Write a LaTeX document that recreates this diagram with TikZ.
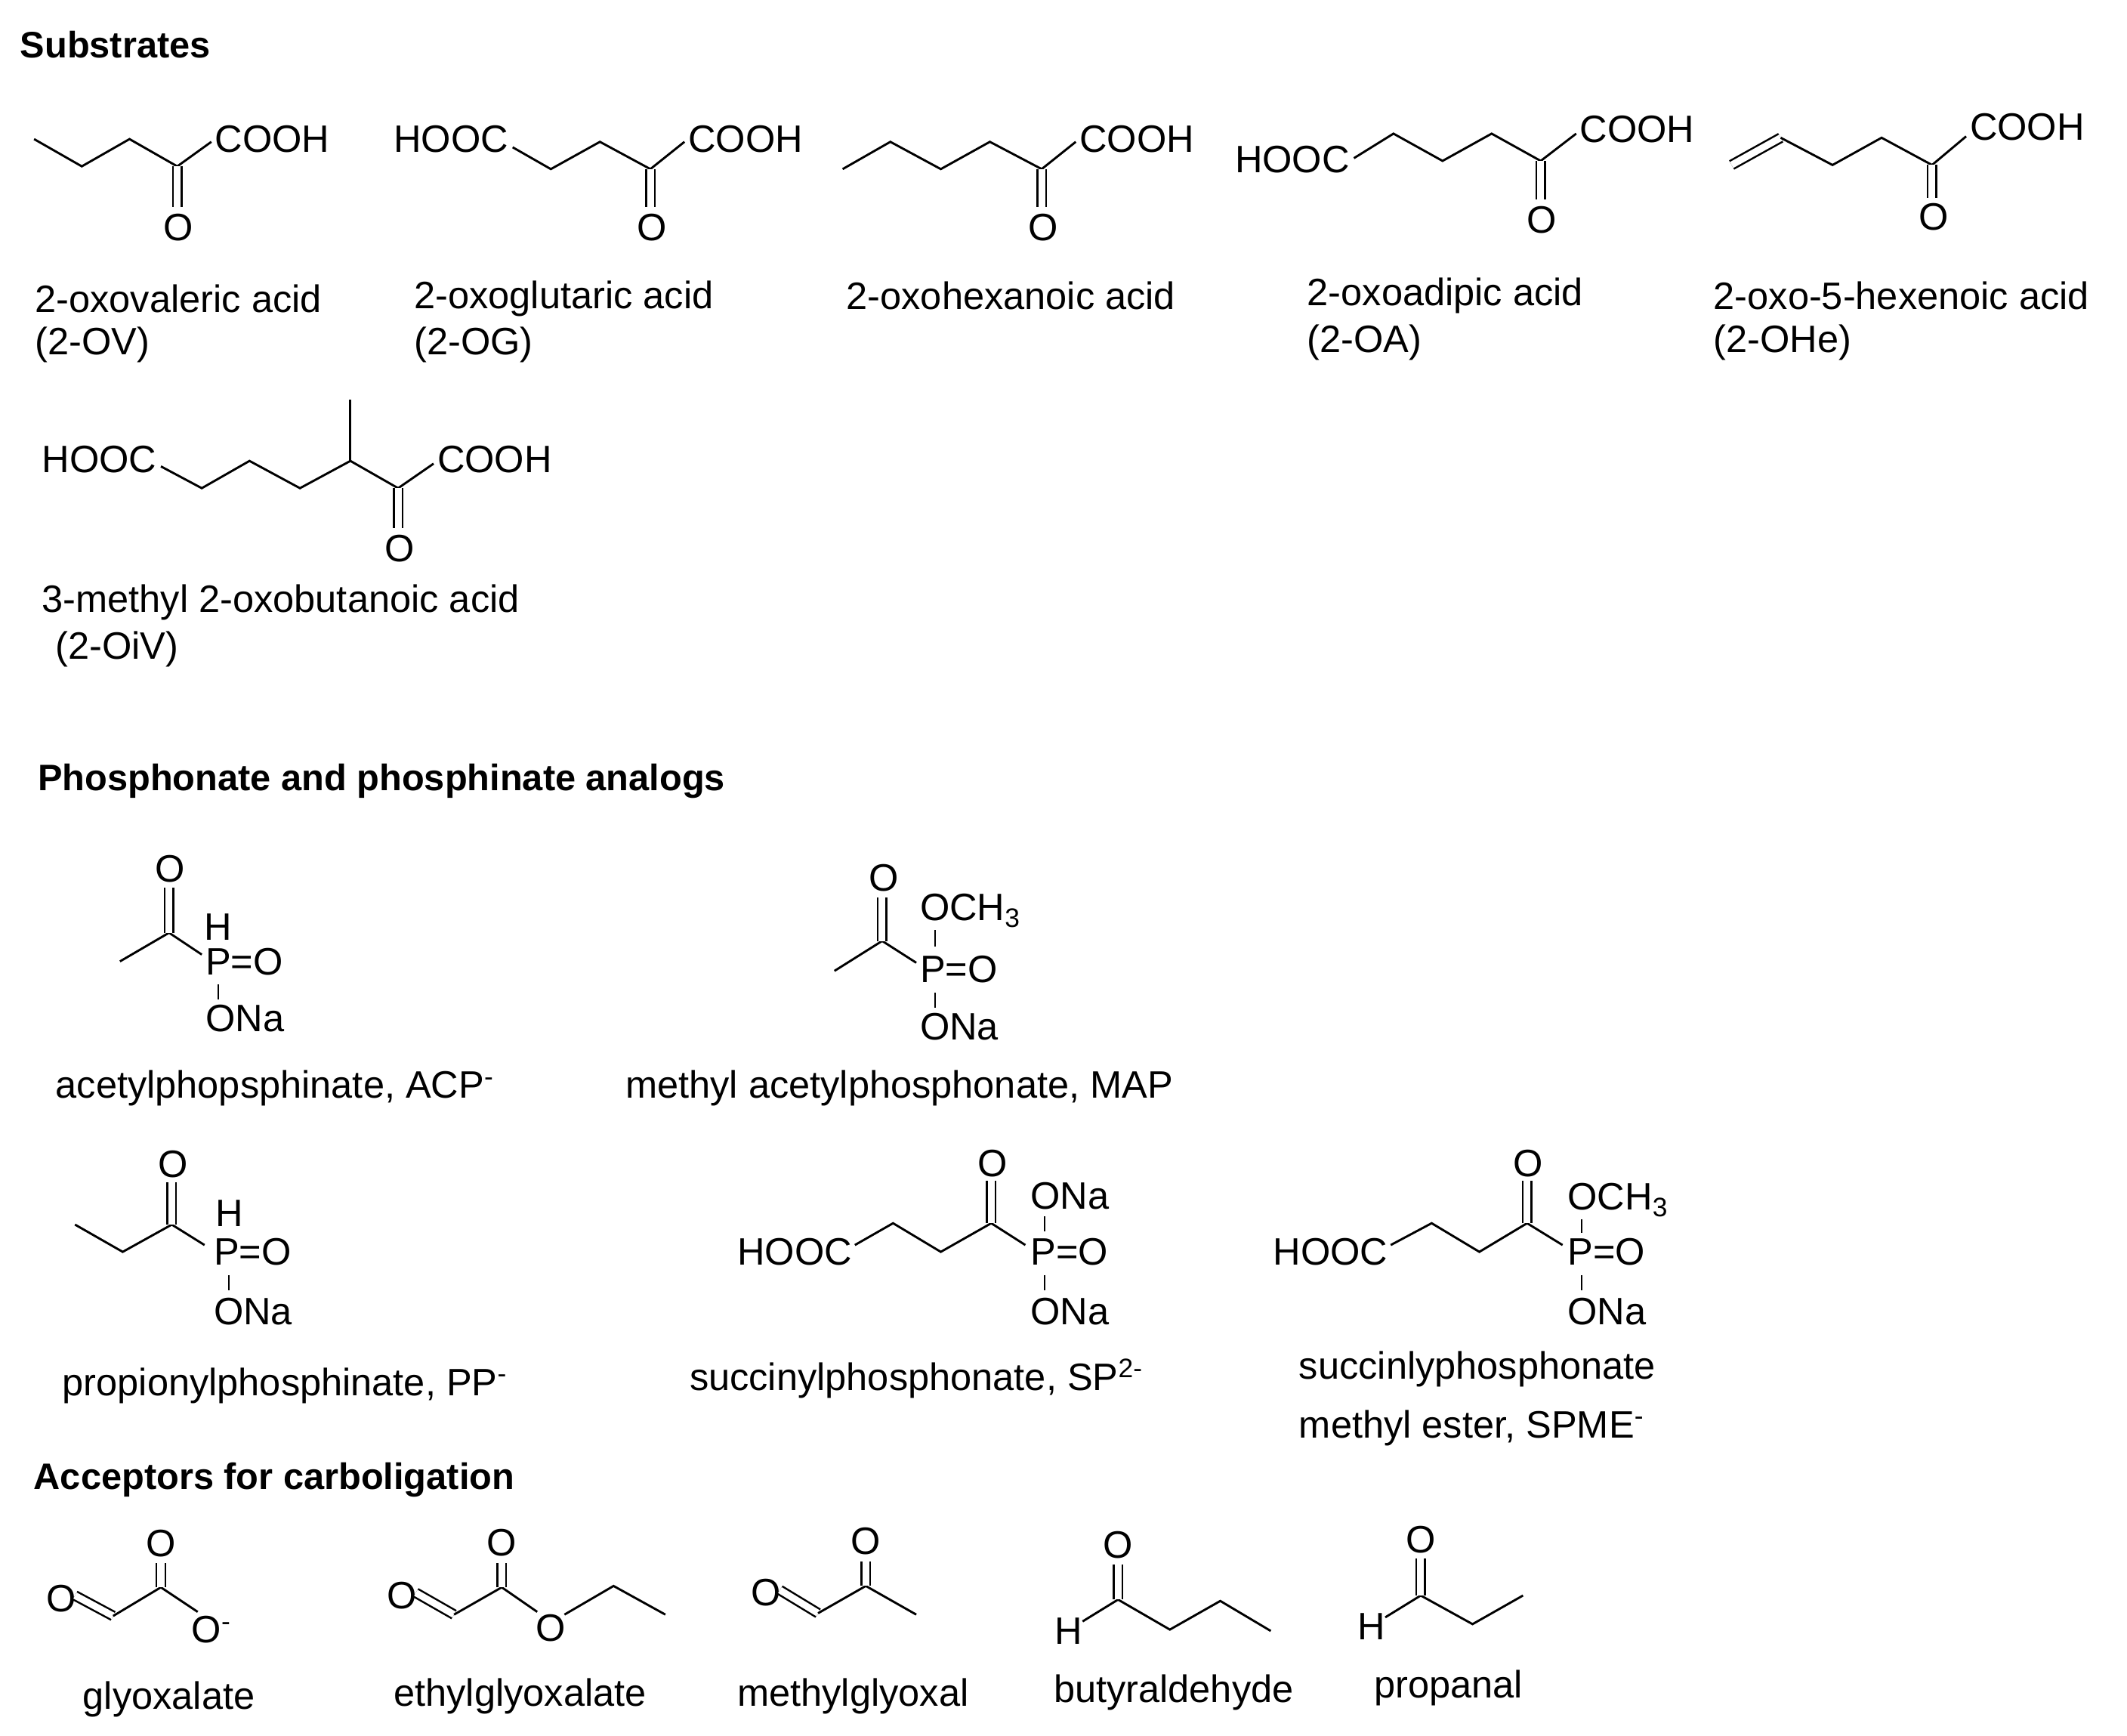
\documentclass[tikz,border=0pt]{standalone}
\usepackage{fontspec}
\setmainfont{Liberation Sans}
\begin{document}
\begin{tikzpicture}[x=1pt,y=-1pt,line width=1.6pt,
  lbl/.style={anchor=west,inner sep=0pt,font=\fontsize{28}{32}\selectfont},
  hd/.style={anchor=west,inner sep=0pt,font=\bfseries\fontsize{27}{32}\selectfont},
  atm/.style={inner sep=0pt,font=\fontsize{28}{32}\selectfont},
  atw/.style={anchor=west,inner sep=0pt,font=\fontsize{28}{32}\selectfont},
  db/.style={double,double distance=5pt,line width=1.4pt}]
\useasboundingbox (0,0) rectangle (1560,1273);
% headings
\node[hd] (h1) at (14,33) {Substrates};
\node[hd] (h2) at (27,573) {Phosphonate and phosphinate analogs};
\node[hd] (h3) at (24,1085) {Acceptors for carboligation};
% 2-OV
\draw (25,102)--(60,122)--(95,102)--(130,122)--(155,104);
\draw[db] (130,122)--(130,152);
\node[atm] (o1) at (131,167) {O};
\node[atw] (c1) at (157,102) {COOH};
\node[lbl] (l1a) at (25,219) {2-oxovaleric acid};
\node[lbl] (l1b) at (25,253) {(2-OV)};
% 2-OG
\node[atw] (hooc2) at (288,102) {HOOC};
\draw (376,108)--(404,124)--(440,104)--(477,124)--(502,104);
\draw[db] (477,124)--(477,152);
\node[atm] (o2) at (478,167) {O};
\node[atw] (c2) at (504,102) {COOH};
\node[lbl] (l2a) at (303,219) {2-oxoglutaric acid};
\node[lbl] (l2b) at (303,253) {(2-OG)};
% 2-oxohexanoic
\draw (618,124)--(653,104)--(690,124)--(726,104)--(764,124)--(789,104);
\draw[db] (764,124)--(764,152);
\node[atm] (o3) at (765,167) {O};
\node[atw] (c3) at (791,102) {COOH};
\node[lbl] (l3a) at (620,217) {2-oxohexanoic acid};
% 2-OA
\node[atw] (hooc4) at (905,117) {HOOC};
\draw (993,116)--(1022,98)--(1058,118)--(1094,98)--(1130,118)--(1156,98);
\draw[db] (1130,118)--(1130,146);
\node[atm] (o4) at (1131,161) {O};
\node[atw] (c4) at (1158,95) {COOH};
\node[lbl] (l4a) at (958,217) {2-oxoadipic acid};
\node[lbl] (l4b) at (958,251) {(2-OA)};
% 2-OHe
\draw[db] (1270,121)--(1306,101);
\draw (1306,101)--(1344,121)--(1380,101)--(1417,121)--(1442,100);
\draw[db] (1417,121)--(1417,145);
\node[atm] (o5) at (1418,159) {O};
\node[atw] (c5) at (1444,93) {COOH};
\node[lbl] (l5a) at (1256,217) {2-oxo-5-hexenoic acid};
\node[lbl] (l5b) at (1256,251) {(2-OHe)};
% 2-OiV
\node[atw] (hooc6) at (30,337) {HOOC};
\draw (118,342)--(148,358)--(183,338)--(220,358)--(257,338)--(292,358)--(318,340);
\draw (257,338)--(257,293);
\draw[db] (292,358)--(292,387);
\node[atm] (o6) at (293,402) {O};
\node[atw] (c6) at (320,337) {COOH};
\node[lbl] (l6a) at (30,442) {3-methyl 2-oxobutanoic acid};
\node[lbl] (l6b) at (40,476) {(2-OiV)};
% ACP
\draw (88,705)--(124,684)--(148,700);
\draw[db] (124,684)--(124,651);
\node[atm] (o7) at (125,637) {O};
\node[atm] (h7) at (160,680) {H};
\node[atw] (p7) at (150,705) {P=O};
\draw[line width=1pt] (160,722)--(160,733);
\node[atw] (na7) at (150,747) {ONa};
\node[lbl] (l7) at (40,798) {acetylphopsphinate, ACP\textsuperscript{-}};
% MAP
\draw (612,712)--(647,690)--(672,706);
\draw[db] (647,690)--(647,658);
\node[atm] (o8) at (648,644) {O};
\node[atw] (och8) at (674,668) {OCH\textsubscript{3}};
\draw[line width=1pt] (686,682)--(686,694);
\node[atw] (p8) at (674,711) {P=O};
\draw[line width=1pt] (686,728)--(686,739);
\node[atw] (na8) at (674,753) {ONa};
\node[lbl] (l8) at (458,798) {methyl acetylphosphonate, MAP};
% PP
\draw (55,898)--(90,918)--(126,898)--(150,913);
\draw[db] (126,898)--(126,867);
\node[atm] (o9) at (127,854) {O};
\node[atm] (h9) at (168,890) {H};
\node[atw] (p9) at (156,918) {P=O};
\draw[line width=1pt] (168,935)--(168,946);
\node[atw] (na9) at (156,962) {ONa};
\node[lbl] (l9) at (45,1016) {propionylphosphinate, PP\textsuperscript{-}};
% SP
\node[atw] (hooc10) at (540,918) {HOOC};
\draw (627,913)--(655,897)--(690,918)--(727,897)--(752,913);
\draw[db] (727,897)--(727,866);
\node[atm] (o10) at (728,853) {O};
\node[atw] (naa10) at (755,877) {ONa};
\draw[line width=1pt] (766,892)--(766,903);
\node[atw] (p10) at (755,918) {P=O};
\draw[line width=1pt] (766,935)--(766,946);
\node[atw] (nab10) at (755,962) {ONa};
\node[lbl] (l10) at (505,1011) {succinylphosphonate, SP\textsuperscript{2-}};
% SPME
\node[atw] (hooc11) at (933,918) {HOOC};
\draw (1020,913)--(1050,897)--(1085,918)--(1120,897)--(1146,913);
\draw[db] (1120,897)--(1120,866);
\node[atm] (o11) at (1121,853) {O};
\node[atw] (och11) at (1149,880) {OCH\textsubscript{3}};
\draw[line width=1pt] (1160,894)--(1160,904);
\node[atw] (p11) at (1149,918) {P=O};
\draw[line width=1pt] (1160,935)--(1160,946);
\node[atw] (na11) at (1149,962) {ONa};
\node[lbl] (l11a) at (952,1004) {succinlyphosphonate};
\node[lbl] (l11b) at (952,1047) {methyl ester, SPME\textsuperscript{-}};
% glyoxalate
\node[atm] (o12a) at (45,1172) {O};
\draw[db] (55,1170)--(83,1185);
\draw (83,1185)--(118,1164)--(145,1182);
\draw[db] (118,1164)--(118,1146);
\node[atm] (o12b) at (118,1132) {O};
\node[atm] (o12c) at (155,1195) {O\textsuperscript{-}};
\node[lbl] (l12) at (60,1246) {glyoxalate};
% ethylglyoxalate
\node[atm] (o13a) at (295,1170) {O};
\draw[db] (305,1168)--(333,1184);
\draw (333,1184)--(368,1164)--(394,1182);
\draw[db] (368,1164)--(368,1146);
\node[atm] (o13b) at (368,1131) {O};
\node[atm] (o13c) at (404,1194) {O};
\draw (414,1184)--(450,1163)--(488,1184);
\node[lbl] (l13) at (288,1244) {ethylglyoxalate};
% methylglyoxal
\node[atm] (o14a) at (562,1168) {O};
\draw[db] (572,1166)--(600,1183);
\draw (600,1183)--(635,1163)--(672,1184);
\draw[db] (635,1163)--(635,1145);
\node[atm] (o14b) at (635,1130) {O};
\node[lbl] (l14) at (540,1244) {methylglyoxal};
% butyraldehyde
\node[atm] (h15) at (784,1196) {H};
\draw (794,1189)--(820,1173)--(858,1195)--(895,1174)--(932,1196);
\draw[db] (820,1173)--(820,1147);
\node[atm] (o15) at (820,1133) {O};
\node[lbl] (l15) at (772,1241) {butyraldehyde};
% propanal
\node[atm] (h16) at (1006,1193) {H};
\draw (1016,1186)--(1042,1170)--(1080,1191)--(1117,1170);
\draw[db] (1042,1170)--(1042,1143);
\node[atm] (o16) at (1042,1129) {O};
\node[lbl] (l16) at (1007,1238) {propanal};
\end{tikzpicture}
\end{document}
